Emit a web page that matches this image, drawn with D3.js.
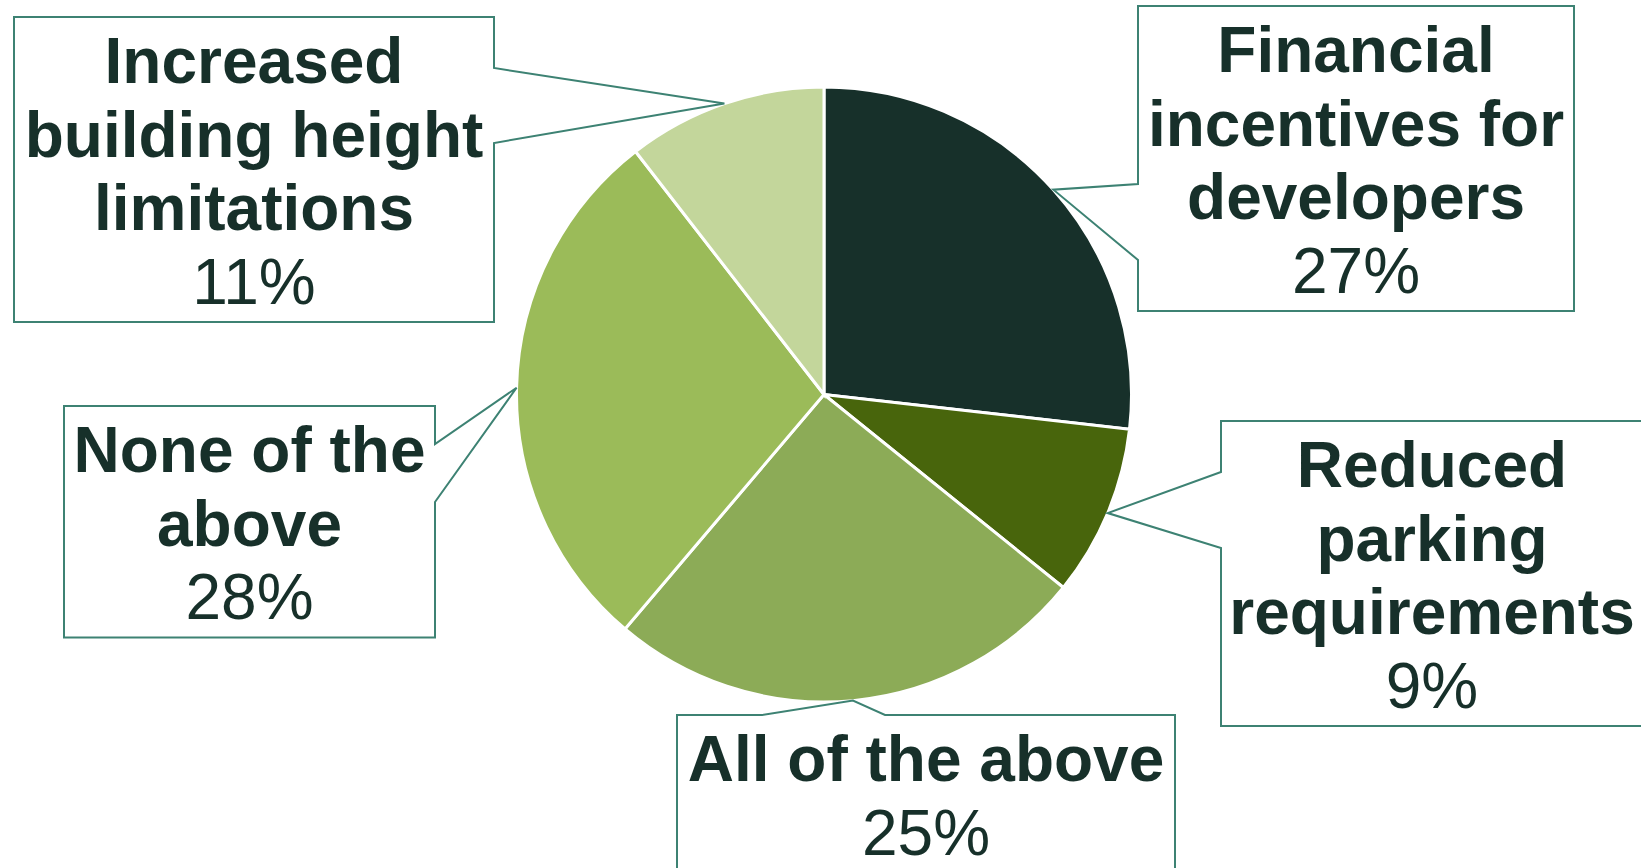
<!DOCTYPE html>
<html lang="en">
<head>
    <meta charset="UTF-8">
    <title>Preferred incentives pie</title>
    <script src="https://d3js.org/d3.v7.min.js"></script>
    <style>
        body {
            margin: 0;
            background-color: #ffffff;
            overflow: hidden;
        }
        svg {
            display: block;
            font-family: "Liberation Sans", Arial, sans-serif;
        }
        .slice {
            stroke: #ffffff;
            stroke-width: 3px;
        }
        .callout {
            fill: #ffffff;
            stroke: #3d8273;
            stroke-width: 2px;
        }
        .label text {
            fill: #17302a;
            font-size: 64px;
            text-anchor: middle;
        }
    </style>
</head>
<body>
    <svg width="1641" height="868"></svg>

    <script>
        // chart data
        const categories = [
            "Financial incentives for developers",
            "Reduced parking requirements",
            "All of the above",
            "None of the above",
            "Increased building height limitations"
        ];
        // shares; labels show the rounded figures
        const values = [26.8, 9.0, 25.4, 28.3, 10.5];
        const percentLabels = ["27%", "9%", "25%", "28%", "11%"];
        const labelLines = [
            ["Financial", "incentives for", "developers"],
            ["Reduced", "parking", "requirements"],
            ["All of the above"],
            ["None of the", "above"],
            ["Increased", "building height", "limitations"]
        ];
        const colors = ["#17302a", "#48650c", "#8cab57", "#9bbb59", "#c3d69b"];

        // callout box layout (same order as categories)
        const callouts = [
            { x: 1138, y: 6,   w: 436, side: "left",  a: 184, b: 260 },
            { x: 1221, y: 421, w: 422, side: "left",  a: 472, b: 548 },
            { x: 677,  y: 715, w: 498, side: "top",   a: 762, b: 885 },
            { x: 64,   y: 406, w: 371, side: "right", a: 444, b: 502 },
            { x: 14,   y: 17,  w: 480, side: "right", a: 68,  b: 143 }
        ];

        const cx = 824, cy = 394.5, radius = 307.5;
        const lineH = 73.5;

        const svg = d3.select("svg");
        const pie = d3.pie().sort(null).value(d => d);
        const arc = d3.arc().innerRadius(0).outerRadius(radius);
        const arcs = pie(values);

        const g = svg.append("g").attr("transform", `translate(${cx},${cy})`);
        g.selectAll(".slice").data(arcs).enter()
            .append("path")
            .attr("class", "slice")
            .attr("d", arc)
            .attr("fill", (d, i) => colors[i]);

        // callouts with leader wedge pointing at slice middle
        function calloutPath(c, tip, h) {
            const x0 = c.x, x1 = c.x + c.w, y0 = c.y, y1 = c.y + h;
            const [tx, ty] = tip;
            if (c.side === "right") {
                return `M${x0},${y0}H${x1}V${c.a}L${tx},${ty}L${x1},${c.b}V${y1}H${x0}Z`;
            } else if (c.side === "left") {
                return `M${x0},${y0}H${x1}V${y1}H${x0}V${c.b}L${tx},${ty}L${x0},${c.a}Z`;
            }
            return `M${x0},${y0}H${c.a}L${tx},${ty}L${c.b},${y0}H${x1}V${y1}H${x0}Z`;
        }

        const labels = svg.selectAll(".label").data(arcs).enter()
            .append("g").attr("class", "label");

        labels.each(function(d, i) {
            const c = callouts[i];
            const mid = (d.startAngle + d.endAngle) / 2;
            const tip = [cx + Math.sin(mid) * radius, cy - Math.cos(mid) * radius];
            const lines = labelLines[i];
            const h = (lines.length + 1) * lineH + 11;
            const sel = d3.select(this);

            sel.append("path")
                .attr("class", "callout")
                .attr("d", calloutPath(c, tip, h));

            const tx = c.x + c.w / 2;
            lines.forEach((ln, k) => {
                sel.append("text")
                    .attr("x", tx)
                    .attr("y", c.y + 66 + k * lineH)
                    .style("font-weight", "bold")
                    .text(ln);
            });
            sel.append("text")
                .attr("x", tx)
                .attr("y", c.y + 66 + lines.length * lineH)
                .text(percentLabels[i]);
        });
    </script>
</body>
</html>
